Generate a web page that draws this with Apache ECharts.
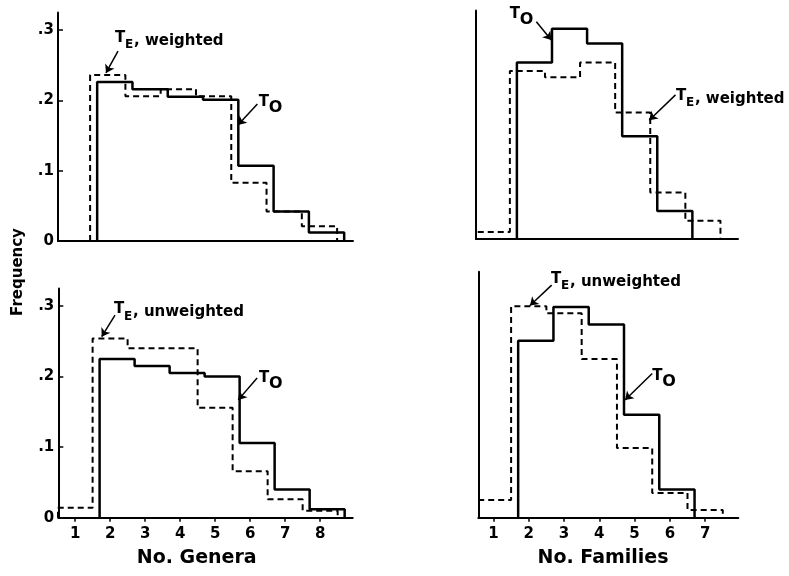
<!DOCTYPE html>
<html><head><meta charset="utf-8">
<script src="https://cdn.jsdelivr.net/npm/echarts@6/dist/echarts.min.js"></script>
<style>html,body{margin:0;padding:0;background:#fff}#c{width:789px;height:576px}</style>
</head><body><div id="c"></div>
<script>
// ---------- data ----------
const generaBins = [1, 2, 3, 4, 5, 6, 7, 8];
const familiesBins = [1, 2, 3, 4, 5, 6, 7];
const generaObservedTop = [null, 0.226, 0.216, 0.205, 0.201, 0.107, 0.042, 0.012];
const generaExpectedWeighted = [null, 0.236, 0.206, 0.216, 0.206, 0.083, 0.042, 0.021];
const generaObservedBottom = [null, 0.225, 0.215, 0.205, 0.200, 0.106, 0.040, 0.012];
const generaExpectedUnweighted = [0.014, 0.254, 0.240, 0.240, 0.156, 0.066, 0.026, 0.010];
const familiesObservedTop = [null, 0.251, 0.299, 0.278, 0.146, 0.040, null];
const familiesExpectedWeighted = [0.010, 0.239, 0.230, 0.251, 0.180, 0.066, 0.026];
const familiesObservedBottom = [null, 0.251, 0.299, 0.274, 0.146, 0.040, null];
const familiesExpectedUnweighted = [0.025, 0.300, 0.290, 0.225, 0.099, 0.035, 0.011];
const yTickValues = [0, 0.1, 0.2, 0.3];
const yTickLabels = ['0', '.1', '.2', '.3'];
const generaTickValues = [1, 2, 3, 4, 5, 6, 7, 8];
const familiesTickValues = [1, 2, 3, 4, 5, 6, 7];
// bin offsets: expected bins centred on the count, observed bins shifted right
const expectedShift = 0;
const observedShift = 0.2;
// annotations (data coordinates of each panel)
const labelTE_TL = [2.205, 0.285], arrowTE_TL = [[2.29, 0.270], [1.95, 0.239]];
const labelTO_TL = [6.28, 0.192], arrowTO_TL = [[6.24, 0.195], [5.69, 0.165]];
const labelTO_TR = [1.50, 0.314], arrowTO_TR = [[2.255, 0.309], [2.68, 0.283]];
const labelTE_TR = [6.23, 0.199], arrowTE_TR = [[6.22, 0.205], [5.47, 0.169]];
const labelTE_BL = [2.11, 0.291], arrowTE_BL = [[2.14, 0.287], [1.76, 0.2565]];
const labelTO_BL = [6.25, 0.192], arrowTO_BL = [[6.20, 0.198], [5.66, 0.167]];
const labelTE_BR = [2.63, 0.334], arrowTE_BR = [[2.65, 0.330], [2.035, 0.301]];
const labelTO_BR = [5.50, 0.195], arrowTO_BR = [[5.50, 0.2047], [4.73, 0.167]];

// ---------- helpers ----------
function stepPath(bins, vals, shift) {
  const pts = [];
  let started = false, lastRight = null;
  bins.forEach((b, i) => {
    const v = vals[i];
    if (v == null) return;
    const l = b - 0.5 + shift, r = b + 0.5 + shift;
    if (!started) { pts.push([l, 0]); started = true; }
    pts.push([l, v]); pts.push([r, v]);
    lastRight = r;
  });
  pts.push([lastRight, 0]);
  return pts;
}
const FONT = 'DejaVu Sans';
function txt(coord, text, size, offset) {
  return { coord: coord, label: { show: true, position: 'right', distance: 0, formatter: text,
    fontFamily: FONT, fontWeight: 'bold', fontSize: size, color: '#000', offset: offset } };
}
function teItems(coord, word) {
  return [txt(coord, 'T', 15, [0, -3]), txt(coord, 'E', 12, [10, 4]), txt(coord, ', ' + word, 15, [19, 0])];
}
function toItems(coord) {
  return [txt(coord, 'T', 15, [0, -4]), txt(coord, 'O', 16, [10, 2])];
}
function annot(items, arrow) {
  return {
    markPoint: { symbol: 'circle', symbolSize: 0, silent: true, data: items },
    markLine: {
      silent: true, symbol: ['none', 'arrow'], symbolSize: 8,
      lineStyle: { color: '#000', width: 1.5, type: 'solid' },
      label: { show: false },
      data: [[{ coord: arrow[0] }, { coord: arrow[1] }]]
    }
  };
}
function dashed(idx, data, extra) {
  return Object.assign({
    type: 'line', xAxisIndex: idx, yAxisIndex: idx, data: data, symbol: 'none',
    lineStyle: { color: '#000', width: 2, type: [6, 4] }, z: 2
  }, extra || {});
}
function solid(idx, data, extra) {
  return Object.assign({
    type: 'line', xAxisIndex: idx, yAxisIndex: idx, data: data, symbol: 'none',
    lineStyle: { color: '#000', width: 2.5, type: 'solid' }, z: 3
  }, extra || {});
}
const axisLine = { show: true, onZero: false, lineStyle: { color: '#000', width: 2 } };
function xAxis(idx, min, max, ticks) {
  return {
    type: 'value', gridIndex: idx, min: min, max: max, splitLine: { show: false },
    axisLine: axisLine,
    axisTick: ticks ? { show: true, inside: false, length: 4, customValues: ticks, lineStyle: { color: '#000', width: 1.5 } } : { show: false },
    axisLabel: ticks ? { show: true, customValues: ticks, margin: 9, color: '#000', fontFamily: FONT, fontWeight: 'bold', fontSize: 15 } : { show: false }
  };
}
function yAxis(idx, max, labelled) {
  return {
    type: 'value', gridIndex: idx, min: 0, max: max, splitLine: { show: false },
    axisLine: axisLine,
    axisTick: labelled ? { show: true, inside: true, length: 5, customValues: yTickValues, lineStyle: { color: '#000', width: 1.5 } } : { show: false },
    axisLabel: labelled ? {
      show: true, customValues: yTickValues, margin: 4, color: '#000', fontFamily: FONT, fontWeight: 'bold', fontSize: 15,
      formatter: v => yTickLabels[yTickValues.findIndex(t => Math.abs(t - v) < 1e-6)]
    } : { show: false }
  };
}

const chart = echarts.init(document.getElementById('c'), null, { renderer: 'canvas' });
chart.setOption({
  animation: false,
  backgroundColor: '#fff',
  grid: [
    { left: 58, top: 12.5, width: 295, height: 228.5 },
    { left: 476, top: 10.5, width: 262, height: 228.5 },
    { left: 58.3, top: 288.4, width: 294.4, height: 229.3 },
    { left: 478.3, top: 271.7, width: 260, height: 246 }
  ],
  xAxis: [
    xAxis(0, 0.59, 8.95, null),
    xAxis(1, 0.535, 8.0, null),
    xAxis(2, 0.52, 8.93, generaTickValues),
    xAxis(3, 0.57, 7.94, familiesTickValues)
  ],
  yAxis: [
    yAxis(0, 0.325, true),
    yAxis(1, 0.325, false),
    yAxis(2, 0.325, true),
    yAxis(3, 0.349, false)
  ],
  series: [
    dashed(0, stepPath(generaBins, generaExpectedWeighted, expectedShift), annot(teItems(labelTE_TL, 'weighted'), arrowTE_TL)),
    solid(0, stepPath(generaBins, generaObservedTop, observedShift), annot(toItems(labelTO_TL), arrowTO_TL)),
    dashed(1, stepPath(familiesBins, familiesExpectedWeighted, expectedShift), annot(teItems(labelTE_TR, 'weighted'), arrowTE_TR)),
    solid(1, stepPath(familiesBins, familiesObservedTop, observedShift), annot(toItems(labelTO_TR), arrowTO_TR)),
    dashed(2, stepPath(generaBins, generaExpectedUnweighted, expectedShift), annot(teItems(labelTE_BL, 'unweighted'), arrowTE_BL)),
    solid(2, stepPath(generaBins, generaObservedBottom, observedShift), annot(toItems(labelTO_BL), arrowTO_BL)),
    dashed(3, stepPath(familiesBins, familiesExpectedUnweighted, expectedShift), annot(teItems(labelTE_BR, 'unweighted'), arrowTE_BR)),
    solid(3, stepPath(familiesBins, familiesObservedBottom, observedShift), annot(toItems(labelTO_BR), arrowTO_BR))
  ],
  graphic: [
    { type: 'text', x: 18.5, y: 272, rotation: Math.PI / 2,
      style: { text: 'Frequency', fontFamily: FONT, fontWeight: 'bold', fontSize: 15, fill: '#000', align: 'center', verticalAlign: 'middle' } },
    { type: 'text', x: 196.7, y: 558,
      style: { text: 'No. Genera', fontFamily: FONT, fontWeight: 'bold', fontSize: 19, fill: '#000', align: 'center', verticalAlign: 'middle' } },
    { type: 'text', x: 603, y: 558,
      style: { text: 'No. Families', fontFamily: FONT, fontWeight: 'bold', fontSize: 19, fill: '#000', align: 'center', verticalAlign: 'middle' } }
  ]
});
</script>
</body></html>
